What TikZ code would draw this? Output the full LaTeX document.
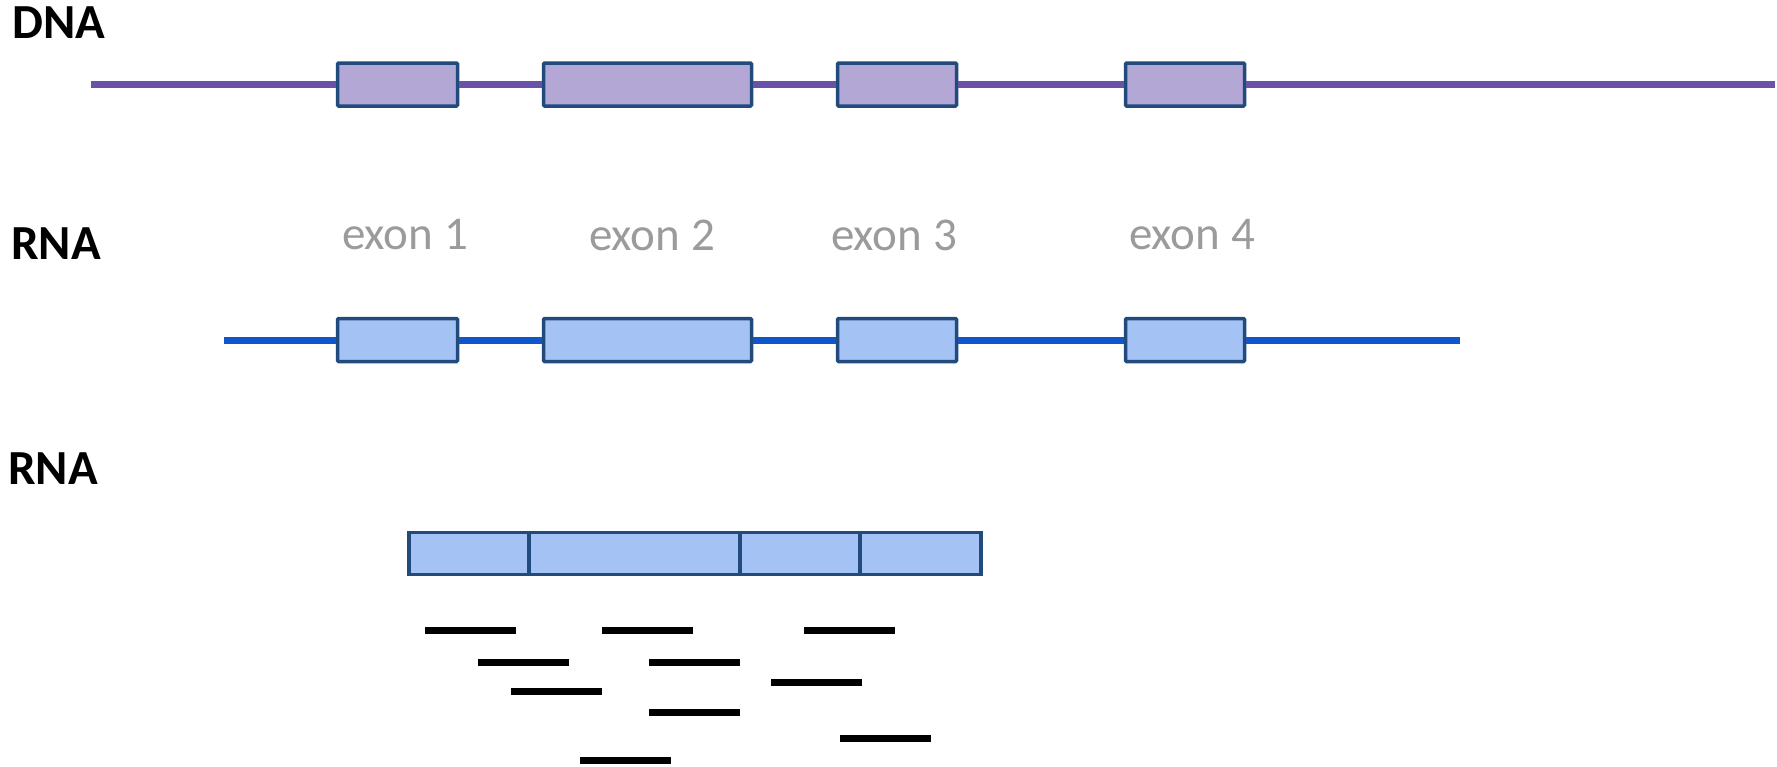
\documentclass[tikz,border=0pt]{standalone}
\usepackage{fontspec}
\setmainfont{Carlito}
\definecolor{dnaline}{RGB}{106,82,168}
\definecolor{dnafill}{RGB}{179,167,214}
\definecolor{rnaline}{RGB}{17,85,204}
\definecolor{rnafill}{RGB}{164,194,244}
\definecolor{edge}{RGB}{33,74,125}
\definecolor{lbl}{RGB}{155,155,155}
\begin{document}
\begin{tikzpicture}[x=1pt,y=-1pt,
  exonbox/.style={draw=edge,line width=3.5pt,rounded corners=1pt,inner sep=0pt,minimum height=43pt},
  dnabox/.style={exonbox,fill=dnafill},
  rnabox/.style={exonbox,fill=rnafill},
  barbox/.style={draw=edge,line width=3.5pt,fill=rnafill,inner sep=0pt,minimum height=42pt},
  dnaconn/.style={draw=dnaline,line width=7pt},
  rnaconn/.style={draw=rnaline,line width=7pt},
  title/.style={font=\fontsize{49}{55}\selectfont\bfseries,anchor=center,inner sep=0pt},
  exonlbl/.style={font=\fontsize{47}{53}\selectfont,text=lbl,anchor=center,inner sep=0pt},
  readline/.style={draw=black,line width=7pt}]
\useasboundingbox (0,0) rectangle (1777,766);

% titles
\node[title] (tdna) at (59,23) {DNA};
\node[title] (trna1) at (56,244) {RNA};
\node[title] (trna2) at (53,469) {RNA};

% DNA
\coordinate (ds) at (91,84.5);
\coordinate (de) at (1775,84.5);
\node[dnabox,minimum width=120pt] (d1) at (397.5,84.5) {};
\node[dnabox,minimum width=208pt] (d2) at (647.5,84.5) {};
\node[dnabox,minimum width=119pt] (d3) at (897,84.5) {};
\node[dnabox,minimum width=119pt] (d4) at (1185,84.5) {};
\draw[dnaconn] (ds) -- (d1) (d1) -- (d2) (d2) -- (d3) (d3) -- (d4) (d4) -- (de);

% exon labels
\node[exonlbl] (e1) at (405,235) {exon 1};
\node[exonlbl] (e2) at (652,235) {exon 2};
\node[exonlbl] (e3) at (894,235) {exon 3};
\node[exonlbl] (e4) at (1192,235) {exon 4};

% RNA (pre-mRNA)
\coordinate (rs) at (224,340);
\coordinate (re) at (1460,340);
\node[rnabox,minimum width=120pt] (r1) at (397.5,340) {};
\node[rnabox,minimum width=208pt] (r2) at (647.5,340) {};
\node[rnabox,minimum width=119pt] (r3) at (897,340) {};
\node[rnabox,minimum width=119pt] (r4) at (1185,340) {};
\draw[rnaconn] (rs) -- (r1) (r1) -- (r2) (r2) -- (r3) (r3) -- (r4) (r4) -- (re);

% mature RNA bar
\node[barbox,minimum width=120pt] (b1) at (469,553.5) {};
\node[barbox,minimum width=211pt] (b2) at (634.5,553.5) {};
\node[barbox,minimum width=120pt] (b3) at (800,553.5) {};
\node[barbox,minimum width=121pt] (b4) at (920.5,553.5) {};

% reads
\draw[readline] (425,630) -- ++(91,0);
\draw[readline] (602,630) -- ++(91,0);
\draw[readline] (804,630) -- ++(91,0);
\draw[readline] (478,662) -- ++(91,0);
\draw[readline] (649,662) -- ++(91,0);
\draw[readline] (771,682) -- ++(91,0);
\draw[readline] (511,691) -- ++(91,0);
\draw[readline] (649,712) -- ++(91,0);
\draw[readline] (840,738) -- ++(91,0);
\draw[readline] (580,760) -- ++(91,0);
\end{tikzpicture}
\end{document}
